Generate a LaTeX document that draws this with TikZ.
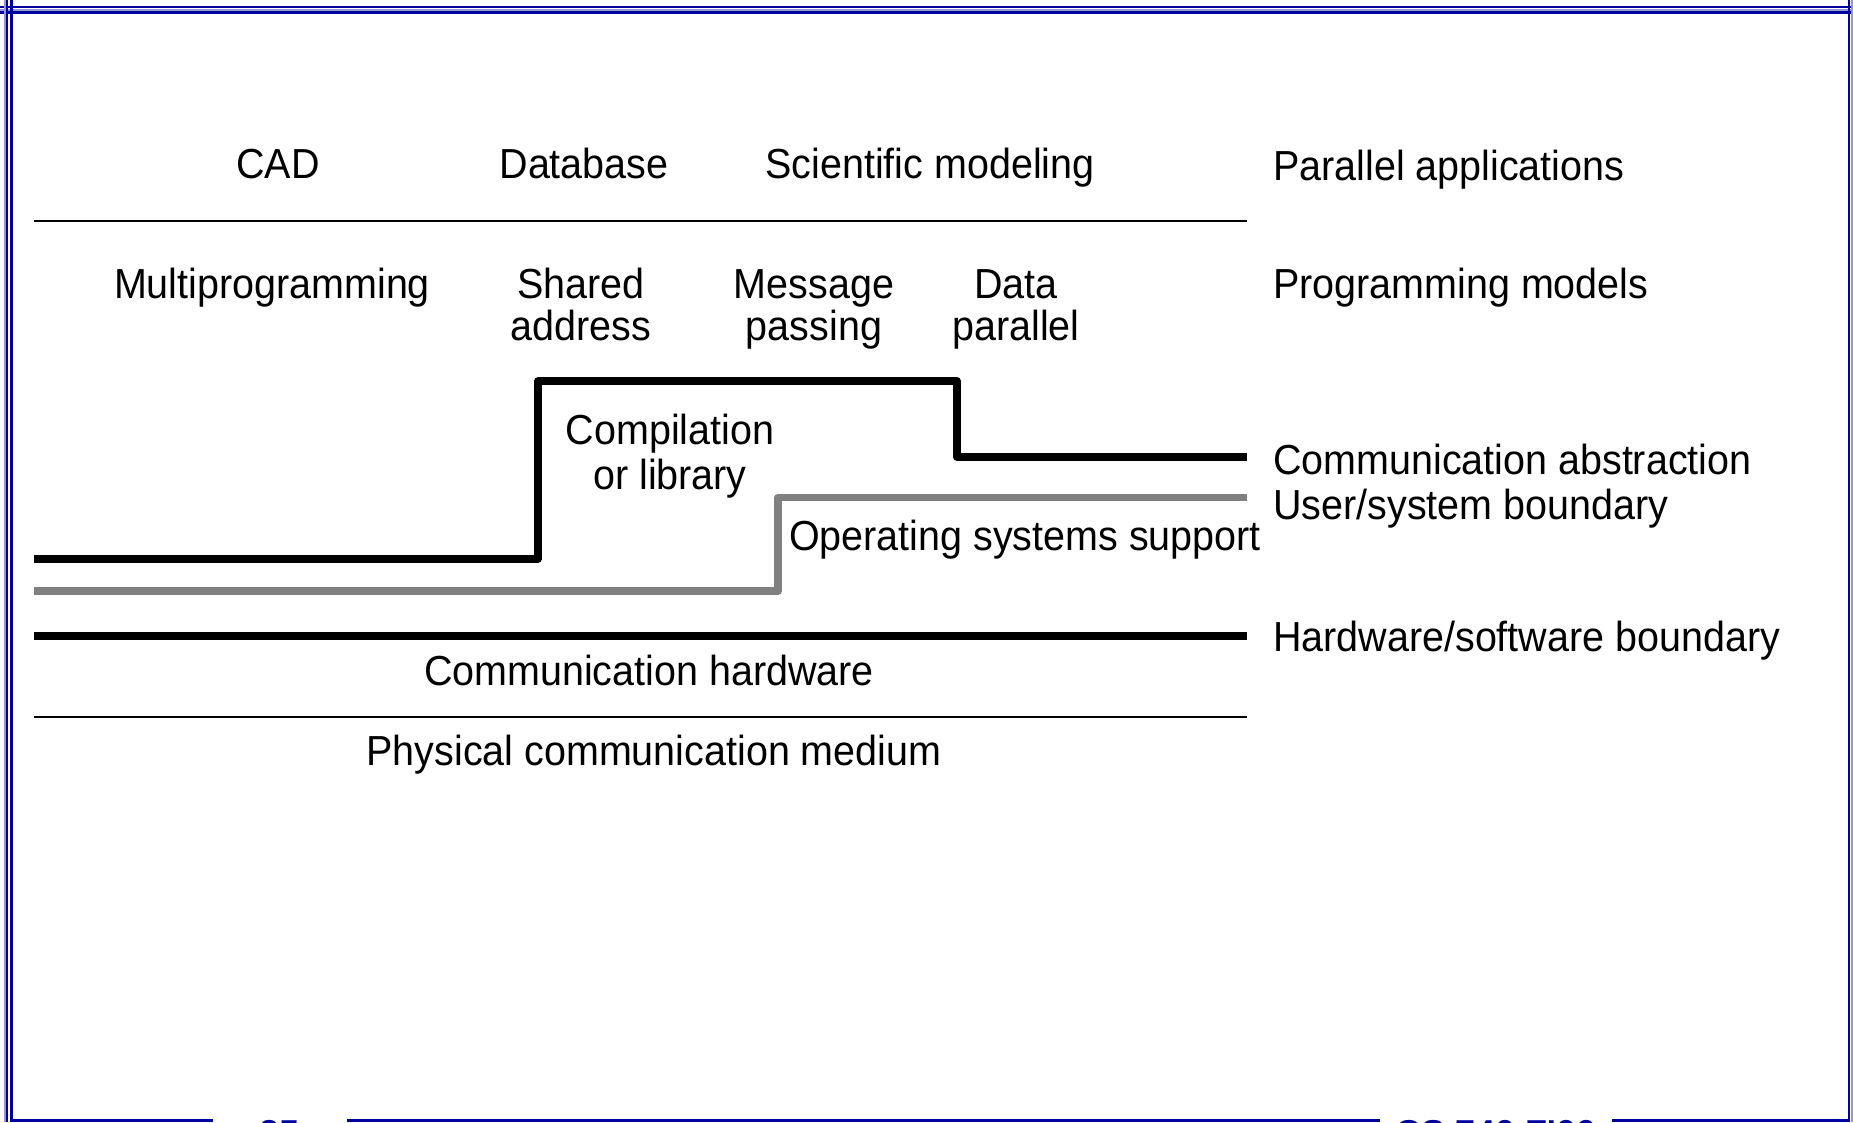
\documentclass[tikz,border=0pt]{standalone}
\usepackage{fontspec}
\setmainfont[FakeStretch=0.94]{Liberation Sans}
\newfontfamily\footfont{Liberation Sans}
\definecolor{framecol}{RGB}{0,0,160}
\definecolor{framelight}{RGB}{150,150,210}
\definecolor{graycol}{RGB}{128,128,128}
\begin{document}
\begin{tikzpicture}[x=1pt,y=-1pt,
  lbl/.style={inner sep=0pt, anchor=base, font=\fontsize{42}{50}\selectfont},
  lbll/.style={lbl, anchor=base west},
  thinline/.style={line width=2.2pt, black},
  thickline/.style={line width=7.5pt, black, line join=round},
  grayline/.style={line width=7.5pt, graycol, line join=round},
  frameline/.style={line width=2.6pt, framecol},
  footer/.style={inner sep=0pt, anchor=base, text=framecol, font=\footfont\bfseries\fontsize{36}{40}\selectfont}]
\useasboundingbox (0,0) rectangle (1853,1122);
\clip (0,0) rectangle (1853,1122);
\fill[white] (0,0) rectangle (1853,1122);

% slide frame
\fill[framelight] (0,8.5) rectangle (1853,11);
\draw[frameline] (0,7) -- (1853,7);
\draw[frameline] (0,12.5) -- (1853,12.5);
\draw[framelight, line width=2pt] (4.5,0) -- (4.5,1122);
\draw[frameline] (7,0) -- (7,1122);
\draw[frameline] (11.3,0) -- (11.3,1122);
\draw[frameline] (1849,0) -- (1849,1122);
\draw[framelight, line width=2pt] (1852,0) -- (1852,1122);
\draw[framecol, line width=3pt] (11,1120.5) -- (213,1120.5);
\draw[framecol, line width=3pt] (347,1120.5) -- (1380,1120.5);
\draw[framecol, line width=3pt] (1612,1120.5) -- (1849,1120.5);
\node[footer] (pagenum) at (280,1145) {25};
\node[footer] (course) at (1496,1145) {CS 740 F'00};

% coordinates of the layer lines
\coordinate (l1a) at (34,221);   \coordinate (l1b) at (1247,221);
\coordinate (ca0) at (34,559);   \coordinate (ca1) at (538,559);
\coordinate (ca2) at (538,381);  \coordinate (ca3) at (957,381);
\coordinate (ca4) at (957,457);  \coordinate (ca5) at (1247,457);
\coordinate (us0) at (34,591);   \coordinate (us1) at (778,591);
\coordinate (us2) at (778,497.5);\coordinate (us3) at (1247,497.5);
\coordinate (hw0) at (34,636);   \coordinate (hw1) at (1247,636);
\coordinate (ph0) at (34,717);   \coordinate (ph1) at (1247,717);

\draw[thinline] (l1a) -- (l1b);
\draw[thickline] (ca0) -- (ca1) -- (ca2) -- (ca3) -- (ca4) -- (ca5);
\draw[grayline] (us0) -- (us1) -- (us2) -- (us3);
\draw[line width=8pt, black] (hw0) -- (hw1);
\draw[thinline] (ph0) -- (ph1);

% row 1
\node[lbl] (cad) at (278,178) {CAD};
\node[lbl] (db) at (584,178) {Database};
\node[lbl] (sci) at (930,178) {Scientific modeling};
\node[lbll] (parapp) at (1273,180) {Parallel applications};

% row 2
\node[lbl] (multi) at (272,298) {Multiprogramming};
\node[lbl] (shared1) at (581,298) {Shared};
\node[lbl] (shared2) at (581,340) {address};
\node[lbl] (msg1) at (814,298) {Message};
\node[lbl] (msg2) at (814,340) {passing};
\node[lbl] (data1) at (1016,298) {Data};
\node[lbl] (data2) at (1016,340) {parallel};
\node[lbll] (progmod) at (1273,298) {Programming models};

% middle
\node[lbl] (comp1) at (670,444) {Compilation};
\node[lbl] (comp2) at (670,489) {or library};
\node[lbll] (osup) at (789,550) {Operating systems support};
\node[lbll] (commabs) at (1273,474) {Communication abstraction};
\node[lbll] (usersys) at (1273,519) {User/system boundary};
\node[lbll] (hwsw) at (1273,651) {Hardware/software boundary};

% bottom
\node[lbl] (commhw) at (649,685) {Communication hardware};
\node[lbl] (phys) at (654,765) {Physical communication medium};
\end{tikzpicture}
\end{document}
